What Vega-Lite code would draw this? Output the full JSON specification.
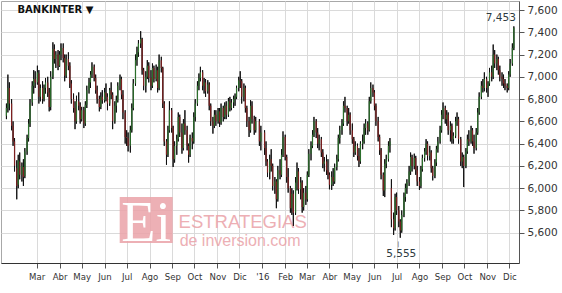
{
  "$schema": "https://vega.github.io/schema/vega-lite/v6.json",
  "width": 518,
  "height": 262,
  "autosize": "none",
  "padding": {"left": 1, "top": 1, "right": 43, "bottom": 30},
  "background": "white",
  "config": {
    "view": {"stroke": "#a8a8a8", "strokeWidth": 1},
    "axis": {"gridColor": "#dadada", "gridWidth": 1, "domainColor": "#666", "tickColor": "#555", "labelColor": "#333", "labelOverlap": false}
  },
  "datasets": {
    "px": [
{"d":"2015-01-19","o":6650,"h":6760,"l":6620,"c":6720},
{"d":"2015-01-21","o":6720,"h":7020,"l":6680,"c":6900},
{"d":"2015-01-23","o":6900,"h":6950,"l":6700,"c":6760},
{"d":"2015-01-26","o":6760,"h":6800,"l":6520,"c":6560},
{"d":"2015-01-28","o":6560,"h":6600,"l":6380,"c":6420},
{"d":"2015-01-30","o":6420,"h":6450,"l":6150,"c":6200},
{"d":"2015-02-02","o":6180,"h":6250,"l":5900,"c":6020},
{"d":"2015-02-04","o":6030,"h":6300,"l":6000,"c":6250},
{"d":"2015-02-06","o":6240,"h":6320,"l":6080,"c":6120},
{"d":"2015-02-09","o":6120,"h":6230,"l":6060,"c":6200},
{"d":"2015-02-11","o":6190,"h":6260,"l":6020,"c":6100},
{"d":"2015-02-13","o":6110,"h":6360,"l":6090,"c":6330},
{"d":"2015-02-16","o":6330,"h":6480,"l":6300,"c":6450},
{"d":"2015-02-18","o":6450,"h":6620,"l":6420,"c":6580},
{"d":"2015-02-20","o":6580,"h":6800,"l":6550,"c":6760},
{"d":"2015-02-23","o":6770,"h":6960,"l":6740,"c":6920},
{"d":"2015-02-25","o":6920,"h":7060,"l":6850,"c":6980},
{"d":"2015-02-27","o":6980,"h":7050,"l":6900,"c":6950},
{"d":"2015-03-02","o":6950,"h":7100,"l":6930,"c":7040},
{"d":"2015-03-04","o":7030,"h":7060,"l":6760,"c":6820},
{"d":"2015-03-06","o":6820,"h":6930,"l":6780,"c":6900},
{"d":"2015-03-09","o":6900,"h":6960,"l":6760,"c":6800},
{"d":"2015-03-11","o":6800,"h":6930,"l":6780,"c":6900},
{"d":"2015-03-13","o":6900,"h":6990,"l":6850,"c":6950},
{"d":"2015-03-16","o":6950,"h":7000,"l":6820,"c":6860},
{"d":"2015-03-18","o":6860,"h":6900,"l":6690,"c":6730},
{"d":"2015-03-20","o":6730,"h":7050,"l":6700,"c":7000},
{"d":"2015-03-23","o":7000,"h":7310,"l":6980,"c":7250},
{"d":"2015-03-25","o":7250,"h":7290,"l":7120,"c":7160},
{"d":"2015-03-27","o":7160,"h":7230,"l":7080,"c":7200},
{"d":"2015-03-30","o":7200,"h":7240,"l":7060,"c":7100},
{"d":"2015-04-01","o":7100,"h":7230,"l":7090,"c":7200},
{"d":"2015-04-03","o":7200,"h":7300,"l":7150,"c":7260},
{"d":"2015-04-06","o":7260,"h":7300,"l":7130,"c":7170},
{"d":"2015-04-08","o":7170,"h":7200,"l":6960,"c":7010},
{"d":"2015-04-10","o":7010,"h":7200,"l":6990,"c":7160},
{"d":"2015-04-13","o":7160,"h":7220,"l":7060,"c":7100},
{"d":"2015-04-15","o":7100,"h":7130,"l":6900,"c":6940},
{"d":"2015-04-17","o":6940,"h":6970,"l":6760,"c":6800},
{"d":"2015-04-20","o":6800,"h":6850,"l":6680,"c":6720},
{"d":"2015-04-22","o":6720,"h":6780,"l":6530,"c":6600},
{"d":"2015-04-24","o":6600,"h":6830,"l":6580,"c":6780},
{"d":"2015-04-27","o":6780,"h":6860,"l":6700,"c":6740},
{"d":"2015-04-29","o":6740,"h":6770,"l":6580,"c":6620},
{"d":"2015-05-01","o":6620,"h":6730,"l":6600,"c":6700},
{"d":"2015-05-04","o":6700,"h":6730,"l":6540,"c":6580},
{"d":"2015-05-06","o":6580,"h":6780,"l":6560,"c":6750},
{"d":"2015-05-08","o":6750,"h":6920,"l":6720,"c":6880},
{"d":"2015-05-11","o":6880,"h":6990,"l":6850,"c":6950},
{"d":"2015-05-13","o":6950,"h":7050,"l":6900,"c":7020},
{"d":"2015-05-15","o":7020,"h":7130,"l":6990,"c":7090},
{"d":"2015-05-18","o":7090,"h":7110,"l":6960,"c":6990},
{"d":"2015-05-20","o":6990,"h":7020,"l":6850,"c":6880},
{"d":"2015-05-22","o":6880,"h":6920,"l":6760,"c":6800},
{"d":"2015-05-25","o":6800,"h":6830,"l":6690,"c":6730},
{"d":"2015-05-27","o":6730,"h":6860,"l":6710,"c":6820},
{"d":"2015-05-29","o":6820,"h":6880,"l":6760,"c":6790},
{"d":"2015-06-01","o":6790,"h":6900,"l":6770,"c":6860},
{"d":"2015-06-03","o":6860,"h":6940,"l":6780,"c":6820},
{"d":"2015-06-05","o":6820,"h":6850,"l":6700,"c":6760},
{"d":"2015-06-08","o":6760,"h":6900,"l":6740,"c":6880},
{"d":"2015-06-10","o":6880,"h":6950,"l":6800,"c":6840},
{"d":"2015-06-12","o":6840,"h":6860,"l":6530,"c":6600},
{"d":"2015-06-15","o":6600,"h":6780,"l":6580,"c":6740},
{"d":"2015-06-17","o":6740,"h":6830,"l":6680,"c":6790},
{"d":"2015-06-19","o":6790,"h":6950,"l":6770,"c":6920},
{"d":"2015-06-22","o":6920,"h":7020,"l":6880,"c":6980},
{"d":"2015-06-24","o":6980,"h":7000,"l":6800,"c":6840},
{"d":"2015-06-26","o":6840,"h":6880,"l":6620,"c":6680},
{"d":"2015-06-29","o":6680,"h":6700,"l":6400,"c":6460},
{"d":"2015-07-01","o":6460,"h":6520,"l":6380,"c":6450},
{"d":"2015-07-03","o":6450,"h":6500,"l":6330,"c":6380},
{"d":"2015-07-06","o":6380,"h":6560,"l":6320,"c":6520},
{"d":"2015-07-08","o":6520,"h":6760,"l":6500,"c":6720},
{"d":"2015-07-10","o":6720,"h":6980,"l":6700,"c":6940},
{"d":"2015-07-13","o":6940,"h":7200,"l":6920,"c":7150},
{"d":"2015-07-15","o":7150,"h":7270,"l":7100,"c":7220},
{"d":"2015-07-17","o":7220,"h":7330,"l":7180,"c":7300},
{"d":"2015-07-20","o":7300,"h":7410,"l":7260,"c":7340},
{"d":"2015-07-22","o":7340,"h":7350,"l":7020,"c":7060},
{"d":"2015-07-24","o":7060,"h":7080,"l":6880,"c":6920},
{"d":"2015-07-27","o":6920,"h":7050,"l":6860,"c":7000},
{"d":"2015-07-29","o":7000,"h":7150,"l":6980,"c":7100},
{"d":"2015-07-31","o":7100,"h":7130,"l":6950,"c":6990},
{"d":"2015-08-03","o":6990,"h":7060,"l":6880,"c":6920},
{"d":"2015-08-05","o":6920,"h":7120,"l":6900,"c":7080},
{"d":"2015-08-07","o":7080,"h":7100,"l":6950,"c":6980},
{"d":"2015-08-10","o":6980,"h":7110,"l":6960,"c":7060},
{"d":"2015-08-12","o":7060,"h":7090,"l":6860,"c":6900},
{"d":"2015-08-14","o":6900,"h":7200,"l":6880,"c":7150},
{"d":"2015-08-17","o":7150,"h":7180,"l":7040,"c":7080},
{"d":"2015-08-19","o":7080,"h":7090,"l":6720,"c":6760},
{"d":"2015-08-21","o":6760,"h":6780,"l":6380,"c":6420},
{"d":"2015-08-24","o":6420,"h":6440,"l":6210,"c":6300},
{"d":"2015-08-26","o":6300,"h":6560,"l":6280,"c":6520},
{"d":"2015-08-28","o":6520,"h":6780,"l":6500,"c":6700},
{"d":"2015-08-31","o":6700,"h":6720,"l":6500,"c":6540},
{"d":"2015-09-02","o":6540,"h":6560,"l":6190,"c":6260},
{"d":"2015-09-04","o":6260,"h":6420,"l":6230,"c":6380},
{"d":"2015-09-07","o":6380,"h":6480,"l":6300,"c":6440},
{"d":"2015-09-09","o":6440,"h":6680,"l":6420,"c":6640},
{"d":"2015-09-11","o":6640,"h":6660,"l":6460,"c":6500},
{"d":"2015-09-14","o":6500,"h":6580,"l":6310,"c":6360},
{"d":"2015-09-16","o":6360,"h":6620,"l":6340,"c":6580},
{"d":"2015-09-18","o":6580,"h":6700,"l":6480,"c":6520},
{"d":"2015-09-21","o":6520,"h":6560,"l":6340,"c":6380},
{"d":"2015-09-23","o":6380,"h":6400,"l":6230,"c":6300},
{"d":"2015-09-25","o":6300,"h":6480,"l":6280,"c":6450},
{"d":"2015-09-28","o":6450,"h":6500,"l":6350,"c":6420},
{"d":"2015-09-30","o":6420,"h":6680,"l":6400,"c":6640},
{"d":"2015-10-02","o":6640,"h":6800,"l":6600,"c":6760},
{"d":"2015-10-05","o":6760,"h":6960,"l":6740,"c":6920},
{"d":"2015-10-07","o":6920,"h":7030,"l":6880,"c":6990},
{"d":"2015-10-09","o":6990,"h":7090,"l":6960,"c":7040},
{"d":"2015-10-12","o":7040,"h":7060,"l":6880,"c":6920},
{"d":"2015-10-14","o":6920,"h":6990,"l":6850,"c":6950},
{"d":"2015-10-16","o":6950,"h":6980,"l":6820,"c":6870},
{"d":"2015-10-19","o":6870,"h":6970,"l":6850,"c":6930},
{"d":"2015-10-21","o":6930,"h":6950,"l":6700,"c":6740},
{"d":"2015-10-23","o":6740,"h":6760,"l":6560,"c":6600},
{"d":"2015-10-26","o":6600,"h":6640,"l":6490,"c":6560},
{"d":"2015-10-28","o":6560,"h":6700,"l":6540,"c":6660},
{"d":"2015-10-30","o":6660,"h":6700,"l":6560,"c":6600},
{"d":"2015-11-02","o":6600,"h":6720,"l":6580,"c":6690},
{"d":"2015-11-04","o":6690,"h":6720,"l":6550,"c":6590},
{"d":"2015-11-06","o":6590,"h":6760,"l":6570,"c":6720},
{"d":"2015-11-09","o":6720,"h":6740,"l":6600,"c":6640},
{"d":"2015-11-11","o":6640,"h":6770,"l":6620,"c":6740},
{"d":"2015-11-13","o":6740,"h":6780,"l":6620,"c":6660},
{"d":"2015-11-16","o":6660,"h":6810,"l":6640,"c":6780},
{"d":"2015-11-18","o":6780,"h":6820,"l":6690,"c":6720},
{"d":"2015-11-20","o":6720,"h":6800,"l":6700,"c":6770},
{"d":"2015-11-23","o":6770,"h":6830,"l":6720,"c":6800},
{"d":"2015-11-25","o":6800,"h":6850,"l":6740,"c":6820},
{"d":"2015-11-27","o":6820,"h":6920,"l":6800,"c":6900},
{"d":"2015-11-30","o":6900,"h":7000,"l":6870,"c":6970},
{"d":"2015-12-02","o":6970,"h":7050,"l":6900,"c":6960},
{"d":"2015-12-04","o":6960,"h":6980,"l":6760,"c":6820},
{"d":"2015-12-07","o":6820,"h":6940,"l":6780,"c":6900},
{"d":"2015-12-09","o":6900,"h":6920,"l":6680,"c":6720},
{"d":"2015-12-11","o":6720,"h":6740,"l":6550,"c":6600},
{"d":"2015-12-14","o":6600,"h":6640,"l":6460,"c":6520},
{"d":"2015-12-16","o":6520,"h":6790,"l":6500,"c":6740},
{"d":"2015-12-18","o":6740,"h":6780,"l":6580,"c":6620},
{"d":"2015-12-21","o":6620,"h":6650,"l":6480,"c":6520},
{"d":"2015-12-23","o":6520,"h":6640,"l":6500,"c":6600},
{"d":"2015-12-28","o":6600,"h":6620,"l":6380,"c":6420},
{"d":"2015-12-30","o":6420,"h":6560,"l":6340,"c":6500},
{"d":"2016-01-04","o":6500,"h":6520,"l":6300,"c":6360},
{"d":"2016-01-06","o":6360,"h":6420,"l":6200,"c":6240},
{"d":"2016-01-08","o":6240,"h":6260,"l":6100,"c":6140},
{"d":"2016-01-11","o":6140,"h":6300,"l":6080,"c":6260},
{"d":"2016-01-13","o":6260,"h":6350,"l":6150,"c":6200},
{"d":"2016-01-15","o":6200,"h":6220,"l":5980,"c":6020},
{"d":"2016-01-18","o":6020,"h":6100,"l":5950,"c":6060},
{"d":"2016-01-20","o":6060,"h":6080,"l":5820,"c":5900},
{"d":"2016-01-22","o":5900,"h":6200,"l":5880,"c":6160},
{"d":"2016-01-25","o":6160,"h":6260,"l":6080,"c":6120},
{"d":"2016-01-27","o":6120,"h":6350,"l":6100,"c":6300},
{"d":"2016-01-29","o":6300,"h":6510,"l":6280,"c":6460},
{"d":"2016-02-01","o":6460,"h":6480,"l":6250,"c":6280},
{"d":"2016-02-03","o":6280,"h":6300,"l":6050,"c":6100},
{"d":"2016-02-05","o":6100,"h":6180,"l":5960,"c":6000},
{"d":"2016-02-08","o":6000,"h":6020,"l":5780,"c":5820},
{"d":"2016-02-10","o":5820,"h":6000,"l":5760,"c":5950},
{"d":"2016-02-12","o":5950,"h":5980,"l":5660,"c":5780},
{"d":"2016-02-15","o":5780,"h":6100,"l":5760,"c":6050},
{"d":"2016-02-17","o":6050,"h":6230,"l":5980,"c":6150},
{"d":"2016-02-19","o":6150,"h":6180,"l":5950,"c":5990},
{"d":"2016-02-22","o":5990,"h":6100,"l":5900,"c":6050},
{"d":"2016-02-24","o":6050,"h":6070,"l":5780,"c":5830},
{"d":"2016-02-26","o":5830,"h":6000,"l":5800,"c":5960},
{"d":"2016-02-29","o":5960,"h":6020,"l":5850,"c":5900},
{"d":"2016-03-02","o":5900,"h":6150,"l":5880,"c":6120},
{"d":"2016-03-04","o":6120,"h":6350,"l":6100,"c":6310},
{"d":"2016-03-07","o":6310,"h":6420,"l":6250,"c":6380},
{"d":"2016-03-09","o":6380,"h":6520,"l":6360,"c":6480},
{"d":"2016-03-11","o":6480,"h":6640,"l":6460,"c":6600},
{"d":"2016-03-14","o":6600,"h":6620,"l":6450,"c":6500},
{"d":"2016-03-16","o":6500,"h":6540,"l":6360,"c":6400},
{"d":"2016-03-18","o":6400,"h":6480,"l":6340,"c":6440},
{"d":"2016-03-21","o":6440,"h":6460,"l":6280,"c":6320},
{"d":"2016-03-23","o":6320,"h":6350,"l":6180,"c":6220},
{"d":"2016-03-25","o":6220,"h":6280,"l":6150,"c":6240},
{"d":"2016-03-28","o":6240,"h":6300,"l":6120,"c":6160},
{"d":"2016-03-30","o":6160,"h":6260,"l":6080,"c":6120},
{"d":"2016-04-01","o":6120,"h":6140,"l":5990,"c":6030},
{"d":"2016-04-04","o":6030,"h":6150,"l":5985,"c":6100},
{"d":"2016-04-06","o":6100,"h":6180,"l":6020,"c":6060},
{"d":"2016-04-08","o":6060,"h":6220,"l":6040,"c":6190},
{"d":"2016-04-11","o":6190,"h":6300,"l":6160,"c":6260},
{"d":"2016-04-13","o":6260,"h":6480,"l":6240,"c":6450},
{"d":"2016-04-15","o":6450,"h":6560,"l":6400,"c":6520},
{"d":"2016-04-18","o":6520,"h":6620,"l":6480,"c":6580},
{"d":"2016-04-20","o":6580,"h":6780,"l":6560,"c":6740},
{"d":"2016-04-22","o":6740,"h":6820,"l":6680,"c":6720},
{"d":"2016-04-25","o":6720,"h":6740,"l":6560,"c":6600},
{"d":"2016-04-27","o":6600,"h":6720,"l":6580,"c":6660},
{"d":"2016-04-29","o":6660,"h":6680,"l":6480,"c":6520},
{"d":"2016-05-02","o":6520,"h":6580,"l":6400,"c":6440},
{"d":"2016-05-04","o":6440,"h":6460,"l":6280,"c":6320},
{"d":"2016-05-06","o":6320,"h":6420,"l":6300,"c":6380},
{"d":"2016-05-09","o":6380,"h":6400,"l":6250,"c":6290},
{"d":"2016-05-11","o":6290,"h":6360,"l":6190,"c":6240},
{"d":"2016-05-13","o":6240,"h":6420,"l":6220,"c":6400},
{"d":"2016-05-16","o":6400,"h":6480,"l":6350,"c":6420},
{"d":"2016-05-18","o":6420,"h":6580,"l":6400,"c":6540},
{"d":"2016-05-20","o":6540,"h":6620,"l":6480,"c":6580},
{"d":"2016-05-23","o":6580,"h":6600,"l":6480,"c":6520},
{"d":"2016-05-25","o":6520,"h":6820,"l":6510,"c":6780},
{"d":"2016-05-27","o":6780,"h":6950,"l":6760,"c":6900},
{"d":"2016-05-30","o":6900,"h":6930,"l":6820,"c":6860},
{"d":"2016-06-01","o":6860,"h":6880,"l":6700,"c":6740},
{"d":"2016-06-03","o":6740,"h":6760,"l":6560,"c":6600},
{"d":"2016-06-06","o":6600,"h":6640,"l":6420,"c":6460},
{"d":"2016-06-08","o":6460,"h":6480,"l":6300,"c":6340},
{"d":"2016-06-10","o":6340,"h":6360,"l":6080,"c":6120},
{"d":"2016-06-13","o":6120,"h":6140,"l":5930,"c":5980},
{"d":"2016-06-15","o":5980,"h":6260,"l":5920,"c":6220},
{"d":"2016-06-17","o":6220,"h":6300,"l":6180,"c":6260},
{"d":"2016-06-20","o":6260,"h":6420,"l":6240,"c":6380},
{"d":"2016-06-22","o":6380,"h":6450,"l":6320,"c":6420},
{"d":"2016-06-24","o":6000,"h":6080,"l":5650,"c":5720},
{"d":"2016-06-27","o":5720,"h":5780,"l":5580,"c":5640},
{"d":"2016-06-29","o":5640,"h":5950,"l":5620,"c":5920},
{"d":"2016-07-01","o":5920,"h":5960,"l":5760,"c":5800},
{"d":"2016-07-04","o":5800,"h":5840,"l":5650,"c":5700},
{"d":"2016-07-06","o":5700,"h":5720,"l":5555,"c":5620},
{"d":"2016-07-08","o":5620,"h":5800,"l":5600,"c":5760},
{"d":"2016-07-11","o":5760,"h":5960,"l":5740,"c":5920},
{"d":"2016-07-13","o":5920,"h":6040,"l":5880,"c":6000},
{"d":"2016-07-15","o":6000,"h":6080,"l":5950,"c":6050},
{"d":"2016-07-18","o":6050,"h":6200,"l":6020,"c":6150},
{"d":"2016-07-20","o":6150,"h":6320,"l":6120,"c":6280},
{"d":"2016-07-22","o":6280,"h":6300,"l":6150,"c":6200},
{"d":"2016-07-25","o":6200,"h":6310,"l":6170,"c":6270},
{"d":"2016-07-27","o":6270,"h":6290,"l":6120,"c":6160},
{"d":"2016-07-29","o":6160,"h":6200,"l":6020,"c":6060},
{"d":"2016-08-01","o":6060,"h":6100,"l":5985,"c":6020},
{"d":"2016-08-03","o":6020,"h":6200,"l":6000,"c":6170},
{"d":"2016-08-05","o":6170,"h":6300,"l":6150,"c":6270},
{"d":"2016-08-08","o":6270,"h":6360,"l":6240,"c":6330},
{"d":"2016-08-10","o":6330,"h":6440,"l":6300,"c":6400},
{"d":"2016-08-12","o":6400,"h":6420,"l":6250,"c":6290},
{"d":"2016-08-15","o":6290,"h":6380,"l":6250,"c":6320},
{"d":"2016-08-17","o":6320,"h":6340,"l":6140,"c":6180},
{"d":"2016-08-19","o":6180,"h":6200,"l":6070,"c":6110},
{"d":"2016-08-22","o":6110,"h":6260,"l":6090,"c":6230},
{"d":"2016-08-24","o":6230,"h":6380,"l":6200,"c":6350},
{"d":"2016-08-26","o":6350,"h":6460,"l":6320,"c":6420},
{"d":"2016-08-29","o":6420,"h":6560,"l":6400,"c":6520},
{"d":"2016-08-31","o":6520,"h":6700,"l":6500,"c":6660},
{"d":"2016-09-02","o":6660,"h":6770,"l":6620,"c":6720},
{"d":"2016-09-05","o":6720,"h":6740,"l":6580,"c":6620},
{"d":"2016-09-07","o":6620,"h":6700,"l":6560,"c":6660},
{"d":"2016-09-09","o":6660,"h":6680,"l":6480,"c":6520},
{"d":"2016-09-12","o":6520,"h":6600,"l":6420,"c":6560},
{"d":"2016-09-14","o":6560,"h":6580,"l":6400,"c":6440},
{"d":"2016-09-16","o":6440,"h":6500,"l":6400,"c":6470},
{"d":"2016-09-19","o":6470,"h":6640,"l":6450,"c":6600},
{"d":"2016-09-21","o":6600,"h":6680,"l":6560,"c":6620},
{"d":"2016-09-23","o":6620,"h":6640,"l":6400,"c":6440},
{"d":"2016-09-26","o":6440,"h":6460,"l":6200,"c":6240},
{"d":"2016-09-28","o":6240,"h":6320,"l":6180,"c":6280},
{"d":"2016-09-30","o":6280,"h":6300,"l":6010,"c":6200},
{"d":"2016-10-03","o":6200,"h":6360,"l":6180,"c":6330},
{"d":"2016-10-05","o":6330,"h":6480,"l":6310,"c":6440},
{"d":"2016-10-07","o":6440,"h":6520,"l":6380,"c":6420},
{"d":"2016-10-10","o":6420,"h":6560,"l":6400,"c":6520},
{"d":"2016-10-12","o":6520,"h":6540,"l":6380,"c":6420},
{"d":"2016-10-14","o":6420,"h":6480,"l":6310,"c":6360},
{"d":"2016-10-17","o":6360,"h":6540,"l":6340,"c":6500},
{"d":"2016-10-19","o":6500,"h":6720,"l":6480,"c":6680},
{"d":"2016-10-21","o":6680,"h":6860,"l":6660,"c":6820},
{"d":"2016-10-24","o":6820,"h":6960,"l":6800,"c":6920},
{"d":"2016-10-26","o":6920,"h":6980,"l":6860,"c":6900},
{"d":"2016-10-28","o":6900,"h":7040,"l":6870,"c":6980},
{"d":"2016-10-31","o":6980,"h":7000,"l":6860,"c":6900},
{"d":"2016-11-02","o":6900,"h":6960,"l":6820,"c":6940},
{"d":"2016-11-04","o":6940,"h":7080,"l":6920,"c":7040},
{"d":"2016-11-07","o":7040,"h":7100,"l":6960,"c":7000},
{"d":"2016-11-09","o":7000,"h":7290,"l":6980,"c":7200},
{"d":"2016-11-11","o":7200,"h":7240,"l":7080,"c":7120},
{"d":"2016-11-14","o":7120,"h":7200,"l":7060,"c":7160},
{"d":"2016-11-16","o":7160,"h":7180,"l":7020,"c":7060},
{"d":"2016-11-18","o":7060,"h":7100,"l":6960,"c":7000},
{"d":"2016-11-21","o":7000,"h":7040,"l":6920,"c":6980},
{"d":"2016-11-23","o":6980,"h":7020,"l":6900,"c":6940},
{"d":"2016-11-25","o":6940,"h":6980,"l":6880,"c":6920},
{"d":"2016-11-28","o":6920,"h":6940,"l":6860,"c":6900},
{"d":"2016-11-30","o":6900,"h":7050,"l":6880,"c":7020},
{"d":"2016-12-02","o":7020,"h":7160,"l":7000,"c":7120},
{"d":"2016-12-05","o":7120,"h":7300,"l":7100,"c":7260},
{"d":"2016-12-07","o":7260,"h":7453,"l":7240,"c":7440}
    ],
    "marks": [
      {"d":"2016-12-07","v":7453,"t":"7,453","pos":"max"},
      {"d":"2016-07-06","v":5555,"t":"5,555","pos":"min"}
    ]
  },
  "layer": [
    {
      "data": {"name": "px"},
      "mark": {"type": "rule", "color": "#111", "strokeWidth": 1},
      "encoding": {
        "x": {
          "field": "d", "type": "temporal", "title": null,
          "scale": {"type": "utc", "domain": [{"year": 2015, "month": 1, "date": 18, "hours": 10, "utc": true}, {"year": 2016, "month": 12, "date": 7, "hours": 5, "utc": true}]},
          "axis": {
            "orient": "bottom",
            "tickCount": {"interval": "month", "step": 1},
            "labelExpr": "datum.value < utc(2015, 1, 15) ? '' : utcmonth(datum.value) == 0 ? \"'\" + utcFormat(datum.value, '%y') : ['Ene','Feb','Mar','Abr','May','Jun','Jul','Ago','Sep','Oct','Nov','Dic'][utcmonth(datum.value)]",
            "gridOpacity": {"condition": {"test": "datum.value < utc(2015, 1, 15)", "value": 0}, "value": 1},
            "tickOpacity": {"condition": {"test": "datum.value < utc(2015, 1, 15)", "value": 0}, "value": 1},
            "grid": true, "tickSize": 5, "labelPadding": 3,
            "labelFont": "DejaVu Sans Condensed", "labelFontSize": 9.5,
            "labelOverlap": false, "labelFlush": false, "domainColor": "#333"
          }
        },
        "y": {
          "field": "l", "type": "quantitative", "title": null,
          "scale": {"domain": [5328, 7681], "nice": false, "zero": false},
          "axis": {
            "orient": "right",
            "tickCount": 12,
            "labelExpr": "datum.value < 5500 ? '' : format(datum.value, ',d')",
            "gridOpacity": {"condition": {"test": "datum.value < 5500", "value": 0}, "value": 1},
            "tickOpacity": {"condition": {"test": "datum.value < 5500", "value": 0}, "value": 1},
            "grid": true, "tickSize": 5, "labelPadding": 3, "labelOverlap": false,
            "labelFont": "DejaVu Sans", "labelFontSize": 10.5, "domainColor": "#555"
          }
        },
        "y2": {"field": "h"}
      }
    },
    {
      "data": {"values": [{"k": "box"}]},
      "mark": {"type": "rect", "color": "#eaa2a8", "opacity": 0.85},
      "encoding": {
        "x": {"datum": {"year": 2015, "month": 6, "date": 21, "hours": 14, "utc": true}, "type": "temporal", "title": null},
        "x2": {"datum": {"year": 2015, "month": 9, "date": 1, "hours": 10, "utc": true}},
        "y": {"datum": 5921, "type": "quantitative", "title": null},
        "y2": {"datum": 5507}
      }
    },
    {
      "data": {"values": [{"k": "Ei"}]},
      "mark": {"type": "text", "text": "Ei", "font": "Liberation Serif", "fontSize": 56, "color": "white", "align": "center", "baseline": "alphabetic"},
      "encoding": {
        "x": {"datum": {"year": 2015, "month": 7, "date": 27, "hours": 12, "utc": true}, "type": "temporal", "title": null},
        "y": {"datum": 5522, "type": "quantitative", "title": null}
      }
    },
    {
      "data": {"values": [{"k": "ESTRATEGIAS"}]},
      "mark": {"type": "text", "text": "ESTRATEGIAS", "font": "Liberation Sans", "fontSize": 18.5, "color": "#eaa2a8", "opacity": 0.85, "align": "left", "baseline": "alphabetic"},
      "encoding": {
        "x": {"datum": {"year": 2015, "month": 9, "date": 9, "hours": 10, "utc": true}, "type": "temporal", "title": null},
        "y": {"datum": 5642, "type": "quantitative", "title": null}
      }
    },
    {
      "data": {"values": [{"k": "de inversion.com"}]},
      "mark": {"type": "text", "text": "de inversion.com", "font": "Liberation Sans", "fontSize": 16, "color": "#eaa2a8", "opacity": 0.85, "align": "left", "baseline": "alphabetic"},
      "encoding": {
        "x": {"datum": {"year": 2015, "month": 9, "date": 10, "hours": 20, "utc": true}, "type": "temporal", "title": null},
        "y": {"datum": 5481, "type": "quantitative", "title": null}
      }
    },
    {
      "data": {"values": [{"k": "BANKINTER ▼"}]},
      "mark": {"type": "text", "text": "BANKINTER ▼", "font": "DejaVu Sans", "fontSize": 10, "fontWeight": "bold", "color": "#111", "align": "left", "baseline": "alphabetic"},
      "encoding": {
        "x": {"datum": {"year": 2015, "month": 2, "date": 2, "hours": 21, "utc": true}, "type": "temporal", "title": null},
        "y": {"datum": 7569, "type": "quantitative", "title": null}
      }
    },
    {
      "data": {"name": "px"},
      "mark": {"type": "rule", "color": "#111", "strokeWidth": 1},
      "encoding": {
        "x": {"field": "d", "type": "temporal", "title": null},
        "y": {"field": "l", "type": "quantitative", "title": null},
        "y2": {"field": "h"}
      }
    },
    {
      "data": {"name": "px"},
      "mark": {"type": "bar", "width": 1.2},
      "encoding": {
        "x": {"field": "d", "type": "temporal", "title": null},
        "y": {"field": "o", "type": "quantitative", "title": null},
        "y2": {"field": "c"},
        "color": {"condition": {"test": "datum.c >= datum.o", "value": "#2b6e2b"}, "value": "#7e2020"}
      }
    },
    {
      "data": {"name": "marks"},
      "transform": [{"filter": "datum.pos == 'max'"}],
      "mark": {"type": "text", "align": "right", "baseline": "alphabetic", "dy": -5, "dx": 2, "font": "DejaVu Sans", "fontSize": 10.5, "color": "#2e3a40"},
      "encoding": {
        "x": {"field": "d", "type": "temporal", "title": null},
        "y": {"field": "v", "type": "quantitative", "title": null},
        "text": {"field": "t"}
      }
    },
    {
      "data": {"name": "marks"},
      "transform": [{"filter": "datum.pos == 'min'"}],
      "mark": {"type": "text", "align": "center", "baseline": "alphabetic", "dy": 19, "dx": 1, "font": "DejaVu Sans", "fontSize": 10.5, "color": "#2e3a40"},
      "encoding": {
        "x": {"field": "d", "type": "temporal", "title": null},
        "y": {"field": "v", "type": "quantitative", "title": null},
        "text": {"field": "t"}
      }
    },
    {
      "data": {"name": "marks"},
      "transform": [{"filter": "datum.pos == 'min'"}],
      "mark": {"type": "text", "text": "|", "align": "center", "baseline": "alphabetic", "dy": 8, "dx": -2, "font": "DejaVu Sans", "fontSize": 6, "color": "#2e3a40"},
      "encoding": {
        "x": {"field": "d", "type": "temporal", "title": null},
        "y": {"field": "v", "type": "quantitative", "title": null}
      }
    }
  ]
}
